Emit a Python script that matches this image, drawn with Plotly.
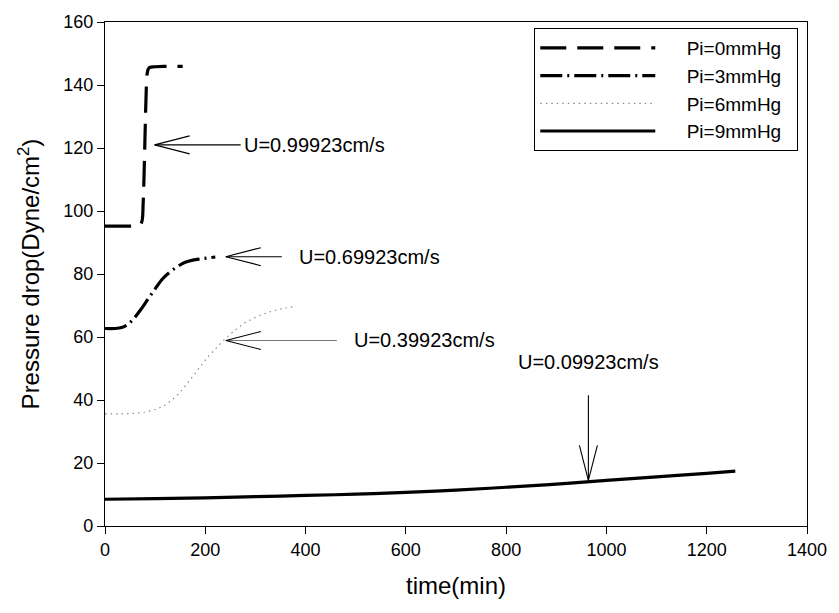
import plotly.graph_objects as go

# ---- data ----
series_names = ["Pi=0mmHg", "Pi=3mmHg", "Pi=6mmHg", "Pi=9mmHg"]

t0 = [0, 20, 40, 60, 70, 74, 76, 78, 80, 82, 84, 88, 100, 120, 140, 155]
p0 = [95.2, 95.2, 95.2, 95.3, 95.6, 97, 102, 112, 125, 137, 143.5, 145.5, 145.8, 145.9, 145.9, 145.9]

t3 = [0, 20, 35, 45, 55, 70, 86, 100, 115, 130, 145, 160, 175, 190, 205, 220]
p3 = [62.7, 62.7, 63.1, 63.9, 65.4, 68.4, 72.1, 75.3, 78.5, 80.7, 82.4, 83.7, 84.4, 84.8, 85.1, 85.4]

t6 = [0, 30, 60, 80, 100, 115, 130, 145, 160, 175, 190, 205, 220, 235, 250, 265, 280, 300, 320, 340, 360, 375]
p6 = [35.6, 35.6, 35.8, 36.2, 37.0, 38.0, 39.6, 41.7, 44.5, 47.5, 50.6, 53.6, 56.2, 58.7, 60.9, 62.9, 64.6, 66.2, 67.5, 68.5, 69.2, 69.6]

t9 = [0, 100, 200, 300, 400, 500, 600, 700, 800, 900, 1000, 1100, 1200, 1257]
p9 = [8.5, 8.7, 8.9, 9.3, 9.7, 10.1, 10.7, 11.4, 12.3, 13.3, 14.5, 15.6, 16.7, 17.4]

ann_text = ["U=0.99923cm/s", "U=0.69923cm/s", "U=0.39923cm/s", "U=0.09923cm/s"]
ann_tip_x = [99, 241, 241, 964]
ann_tip_y = [121.0, 85.5, 58.9, 14.5]

x_ticks = [0, 200, 400, 600, 800, 1000, 1200, 1400]
y_ticks = [0, 20, 40, 60, 80, 100, 120, 140, 160]

# ---- styles ----
FONT = "Liberation Sans, Arial, sans-serif"
styles = [
    dict(color="black", width=3.2, dash="26px,11px"),
    dict(color="black", width=3.2, dash="22px,5px,2px,5px"),
    dict(color="#8a8a8a", width=1.2, dash="1.5px,4px"),
    dict(color="black", width=3.2, dash="solid"),
]
GAP = "&nbsp;" * 5
TAIL = "&nbsp;" * 2

fig = go.Figure()
for name, xs, ys, st in zip(series_names, [t0, t3, t6, t9], [p0, p3, p6, p9], styles):
    fig.add_trace(go.Scatter(x=xs, y=ys, mode="lines", name=GAP + name + TAIL, line=st,
                             line_shape="spline"))

# arrows: (shaft length px, gap to text px, direction, shaft colour)
arrow_cfg = [
    (86, 1, "left", "black"),
    (56, 15, "left", "black"),
    (111, 15, "left", "#777777"),
    (85, 20, "down", "black"),
]
HEAD_L, HEAD_W = 35, 9
shapes, annotations = [], []
for txt, tx, ty, (L, gap, d, col) in zip(ann_text, ann_tip_x, ann_tip_y, arrow_cfg):
    if d == "left":
        segs = [((L, 0), col), ((HEAD_L, -HEAD_W), "black"), ((HEAD_L, HEAD_W), "black")]
        text_pos = dict(xshift=L + gap, yshift=0, xanchor="left", yanchor="middle")
    else:
        segs = [((0, L), col), ((-HEAD_W, HEAD_L), "black"), ((HEAD_W, HEAD_L), "black")]
        text_pos = dict(xshift=0, yshift=L + gap, xanchor="center", yanchor="bottom")
    for (dx, dy), c in segs:
        shapes.append(dict(type="line", xref="x", yref="y",
                           xsizemode="pixel", ysizemode="pixel",
                           xanchor=tx, yanchor=ty, x0=0, y0=0, x1=dx, y1=dy,
                           line=dict(color=c, width=1.1)))
    annotations.append(dict(x=tx, y=ty, xref="x", yref="y", text=txt, showarrow=False,
                            font=dict(family=FONT, size=20, color="black"),
                            **text_pos))

fig.update_layout(
    width=839, height=613,
    margin=dict(l=105, r=27, t=17, b=87),
    paper_bgcolor="white", plot_bgcolor="white",
    font=dict(family=FONT, color="black"),
    showlegend=True,
    legend=dict(x=0.6115, y=0.988, xanchor="left", yanchor="top",
                bgcolor="white", bordercolor="black", borderwidth=1,
                font=dict(family=FONT, size=19), itemwidth=115),
    annotations=annotations,
    shapes=shapes,
)
fig.update_xaxes(range=[0, 1400], tickvals=x_ticks, ticks="outside", ticklen=7,
                 tickcolor="black", showline=True, linecolor="black", linewidth=1.3,
                 mirror=True, showgrid=False, zeroline=False,
                 tickfont=dict(family=FONT, size=18),
                 title=dict(text="time(min)", font=dict(family=FONT, size=24), standoff=18))
fig.update_yaxes(range=[0, 160], tickvals=y_ticks, ticks="outside", ticklen=7,
                 tickcolor="black", showline=True, linecolor="black", linewidth=1.3,
                 mirror=True, showgrid=False, zeroline=False,
                 tickfont=dict(family=FONT, size=18),
                 title=dict(text="Pressure drop(Dyne/cm<sup>2</sup>)",
                            font=dict(family=FONT, size=24), standoff=16))

fig.write_html("out.html")
